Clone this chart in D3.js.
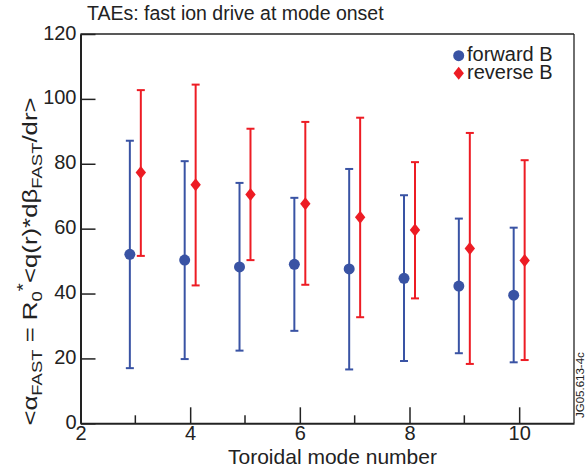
<!DOCTYPE html>
<html>
<head>
<meta charset="utf-8">
<script src="https://cdn.jsdelivr.net/npm/d3@7"></script>
<style>
  html, body { margin: 0; padding: 0; background: #fff; }
  svg { display: block; font-family: "Liberation Sans", Arial, Helvetica, sans-serif; }
</style>
</head>
<body>
<svg id="chart" width="586" height="472"></svg>
<script>
// Toroidal mode numbers of the TAEs
const modes = [3, 4, 5, 6, 7, 8, 9, 10];

// Forward field: mean drive and error-bar limits
const forwardMean = [52.1, 50.3, 48.2, 49.0, 47.6, 44.7, 42.3, 39.5];
const forwardHigh = [87.1, 80.8, 74.1, 69.5, 78.4, 70.3, 63.1, 60.3];
const forwardLow  = [17.0, 19.8, 22.4, 28.5, 16.6, 19.2, 21.6, 18.8];

// Reverse field: mean drive and error-bar limits
const reverseMean = [77.3, 73.5, 70.5, 67.7, 63.5, 59.6, 53.9, 50.2];
const reverseHigh = [102.7, 104.4, 90.8, 92.9, 94.2, 80.5, 89.5, 81.1];
const reverseLow  = [51.6, 42.5, 50.3, 42.7, 32.7, 38.5, 18.3, 19.5];

// Axis ticks
const xMajorTicks = [2, 4, 6, 8, 10];
const xMinorTicks = [3, 5, 7, 9];
const yTicks = [0, 20, 40, 60, 80, 100, 120];

const BLUE = "#3953a4";
const RED = "#ed1c24";
const INK = "#222";

const svg = d3.select("#chart");
const plotLeft = 80.5, plotRight = 574, plotTop = 34, plotBottom = 423.3;

const x = d3.scaleLinear().domain([2, 11]).range([plotLeft, plotRight]);
const y = d3.scaleLinear().domain([0, 120]).range([plotBottom, plotTop]);

// Frame: heavier left/bottom axes, lighter top/right edges
svg.append("line").attr("x1", plotLeft).attr("x2", plotRight).attr("y1", plotTop).attr("y2", plotTop)
  .attr("stroke", INK).attr("stroke-width", 1.3);
svg.append("line").attr("x1", plotRight).attr("x2", plotRight).attr("y1", plotTop).attr("y2", plotBottom)
  .attr("stroke", INK).attr("stroke-width", 1.3);

// Bottom axis with inward ticks
const xAxis = svg.append("g").attr("transform", `translate(0,${plotBottom})`)
  .call(d3.axisBottom(x).tickValues(xMajorTicks).tickSize(-16).tickPadding(2).tickSizeOuter(0));
xAxis.selectAll(".tick line").attr("stroke", INK).attr("stroke-width", 1.5);
xAxis.selectAll(".tick text").attr("font-size", 20).attr("fill", INK)
  .attr("font-family", "Liberation Sans, Arial, sans-serif");
xAxis.select(".domain").attr("stroke", INK).attr("stroke-width", 2);

svg.append("g").selectAll("line").data(xMinorTicks).join("line")
  .attr("x1", d => x(d)).attr("x2", d => x(d))
  .attr("y1", plotBottom).attr("y2", plotBottom - 8)
  .attr("stroke", INK).attr("stroke-width", 1.5);

// Left axis with inward ticks
const yAxis = svg.append("g").attr("transform", `translate(${plotLeft},0)`)
  .call(d3.axisLeft(y).tickValues(yTicks).tickSize(-15).tickPadding(4).tickSizeOuter(0));
yAxis.selectAll(".tick line").attr("stroke", INK).attr("stroke-width", 1.5);
yAxis.selectAll(".tick text").attr("font-size", 20).attr("fill", INK)
  .attr("font-family", "Liberation Sans, Arial, sans-serif")
  .attr("dy", "0.25em");
yAxis.select(".domain").attr("stroke", INK).attr("stroke-width", 2);

// Error bars and markers
function diamond(cx, cy) {
  return `M${cx},${cy - 6.5}L${cx + 5.2},${cy}L${cx},${cy + 6.5}L${cx - 5.2},${cy}Z`;
}
function drawSeries(offset, mean, high, low, color, shape) {
  const g = svg.append("g");
  const rows = modes.map((m, i) => ({ xv: m + offset, mean: mean[i], high: high[i], low: low[i] }));
  g.selectAll("line.bar").data(rows).join("line").attr("class", "bar")
    .attr("x1", d => x(d.xv)).attr("x2", d => x(d.xv))
    .attr("y1", d => y(d.low)).attr("y2", d => y(d.high))
    .attr("stroke", color).attr("stroke-width", 2);
  g.selectAll("line.capHigh").data(rows).join("line").attr("class", "capHigh")
    .attr("x1", d => x(d.xv) - 4).attr("x2", d => x(d.xv) + 4)
    .attr("y1", d => y(d.high)).attr("y2", d => y(d.high))
    .attr("stroke", color).attr("stroke-width", 2);
  g.selectAll("line.capLow").data(rows).join("line").attr("class", "capLow")
    .attr("x1", d => x(d.xv) - 4).attr("x2", d => x(d.xv) + 4)
    .attr("y1", d => y(d.low)).attr("y2", d => y(d.low))
    .attr("stroke", color).attr("stroke-width", 2);
  if (shape === "circle") {
    g.selectAll("circle").data(rows).join("circle")
      .attr("cx", d => x(d.xv)).attr("cy", d => y(d.mean)).attr("r", 5.5)
      .attr("fill", color);
  } else {
    g.selectAll("path").data(rows).join("path")
      .attr("d", d => diamond(x(d.xv), y(d.mean)))
      .attr("fill", color);
  }
}

drawSeries(-0.1, forwardMean, forwardHigh, forwardLow, BLUE, "circle");
drawSeries(0.1, reverseMean, reverseHigh, reverseLow, RED, "diamond");

// Title
svg.append("text").attr("x", 87).attr("y", 19.5)
  .attr("font-size", 19.5).attr("fill", INK)
  .text("TAEs: fast ion drive at mode onset");

// X axis title
svg.append("text").attr("x", 332.5).attr("y", 463.5).attr("text-anchor", "middle")
  .attr("font-size", 21).attr("fill", INK)
  .text("Toroidal mode number");

// Y axis title with sub/superscripts (drawn tall and narrow)
const yl = svg.append("text")
  .attr("transform", "translate(37,261.5) rotate(-90) scale(1.23,1)")
  .attr("text-anchor", "middle")
  .attr("font-size", 21).attr("fill", INK);
yl.append("tspan").text("<α");
yl.append("tspan").attr("font-size", 15).attr("dy", 5).text("FAST");
yl.append("tspan").attr("dy", -5).text(" = R");
yl.append("tspan").attr("font-size", 15).attr("dy", 5).text("0");
yl.append("tspan").attr("font-size", 17).attr("dy", -13).text("*");
yl.append("tspan").attr("dy", 8).text("<q(r)*dβ");
yl.append("tspan").attr("font-size", 15).attr("dy", 5).text("FAST");
yl.append("tspan").attr("dy", -5).text("/dr>");

// Legend
const legend = svg.append("g");
legend.append("circle").attr("cx", 458.7).attr("cy", 55.7).attr("r", 5.5).attr("fill", BLUE);
legend.append("text").attr("x", 467).attr("y", 61).attr("font-size", 20).attr("fill", INK).text("forward B");
legend.append("path").attr("d", diamond(458.7, 73.3)).attr("fill", RED);
legend.append("text").attr("x", 467).attr("y", 78.8).attr("font-size", 20).attr("fill", INK).text("reverse B");

// Figure reference tag
svg.append("text").attr("transform", "translate(584,418) rotate(-90)")
  .attr("font-size", 11.5).attr("fill", INK)
  .text("JG05.613-4c");
</script>
</body>
</html>
